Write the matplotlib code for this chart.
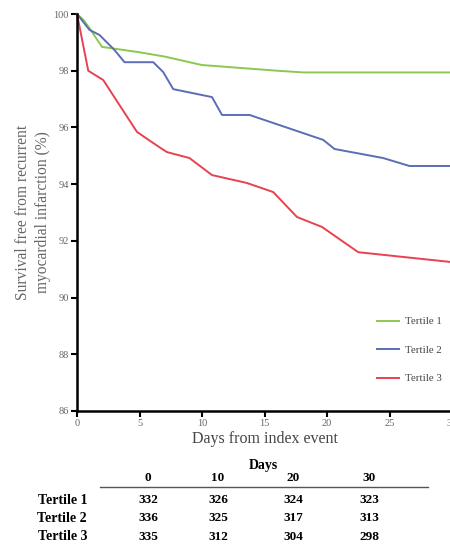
import matplotlib
matplotlib.use("Agg")
import matplotlib.pyplot as plt

# Data
t1_days = [0, 0.5, 1, 2, 5, 7, 9, 10, 13, 16, 18.1, 30]
t1_surv = [100, 99.8, 99.5, 98.84, 98.65, 98.5, 98.3, 98.2, 98.1, 98.0, 97.94, 97.94]

t2_days = [0, 1.0, 1.8, 3.0, 3.8, 6.1, 6.9, 7.7, 10.8, 11.6, 13.8, 19.7, 20.6, 24.5, 26.6, 30]
t2_surv = [100, 99.44, 99.26, 98.73, 98.3, 98.3, 97.95, 97.35, 97.07, 96.44, 96.44, 95.56, 95.24, 94.92, 94.64, 94.64]

t3_days = [0, 0.9, 2.1, 4.8, 6.6, 7.2, 9.0, 10.8, 13.6, 15.7, 17.6, 19.6, 22.5, 30]
t3_surv = [100, 98.0, 97.67, 95.84, 95.3, 95.13, 94.92, 94.32, 94.04, 93.72, 92.84, 92.49, 91.6, 91.25]

series_labels = ["Tertile 1", "Tertile 2", "Tertile 3"]
x_ticks = [0, 5, 10, 15, 20, 25, 30]
y_ticks = [86, 88, 90, 92, 94, 96, 98, 100]

table_days = ["0", "10", "20", "30"]
table_t1 = [332, 326, 324, 323]
table_t2 = [336, 325, 317, 313]
table_t3 = [335, 312, 304, 298]

serif = ["Liberation Serif", "DejaVu Serif"]
grey = "#666666"

fig = plt.figure(figsize=(4.5, 5.47), dpi=100)
ax = fig.add_axes([77/450, 136/547, 375/450, 397/547])

colors = ["#8cc850", "#5b6db5", "#e8414f"]
for d, s, c, lab in zip([t1_days, t2_days, t3_days], [t1_surv, t2_surv, t3_surv], colors, series_labels):
    ax.plot(d, s, color=c, lw=1.4, label=lab, clip_on=False)

ax.set_xlim(0, 30)
ax.set_ylim(86, 100)
ax.set_xticks(x_ticks)
ax.set_yticks(y_ticks)
ax.spines["top"].set_visible(False)
ax.spines["right"].set_visible(False)
for sp in ("left", "bottom"):
    ax.spines[sp].set_linewidth(1.8)
ax.tick_params(axis="both", direction="out", length=4, width=1.5, labelsize=7.5, labelcolor=grey, pad=2)
for lbl in ax.get_xticklabels() + ax.get_yticklabels():
    lbl.set_fontfamily(serif)

ax.set_xlabel("Days from index event", fontsize=11.5, color="#444444", family=serif, labelpad=2)
ax.set_ylabel("Survival free from recurrent\nmyocardial infarction (%)", fontsize=11.2, color=grey,
              family=serif, labelpad=2, linespacing=1.3)

leg = ax.legend(loc="lower right", bbox_to_anchor=(1.0, 0.045), frameon=False,
                prop={"family": serif, "size": 7.8}, handlelength=2.0, labelspacing=1.75,
                handletextpad=0.6)
for txt in leg.get_texts():
    txt.set_color("#444444")

# Risk table
def fx(px):
    return px / 450
def fy(py):
    return 1 - py / 547

fig.text(fx(263), fy(465), "Days", ha="center", va="center", fontsize=10, fontweight="bold", family=serif)
col_x = [148, 218, 293, 369]
for x, lab in zip(col_x, table_days):
    fig.text(fx(x), fy(478), lab, ha="center", va="center", fontsize=9.5, fontweight="bold", family=serif)
fig.add_artist(plt.Line2D([fx(100), fx(428)], [fy(487), fy(487)], color="#555555", lw=1.0))
row_y = [500, 518, 537]
for y, lab, vals in zip(row_y, series_labels, [table_t1, table_t2, table_t3]):
    fig.text(fx(87), fy(y), lab, ha="right", va="center", fontsize=10, fontweight="bold", family=serif)
    for x, v in zip(col_x, vals):
        fig.text(fx(x), fy(y), str(v), ha="center", va="center", fontsize=9.5, fontweight="bold", family=serif)

fig.savefig("out.png", dpi=100)
